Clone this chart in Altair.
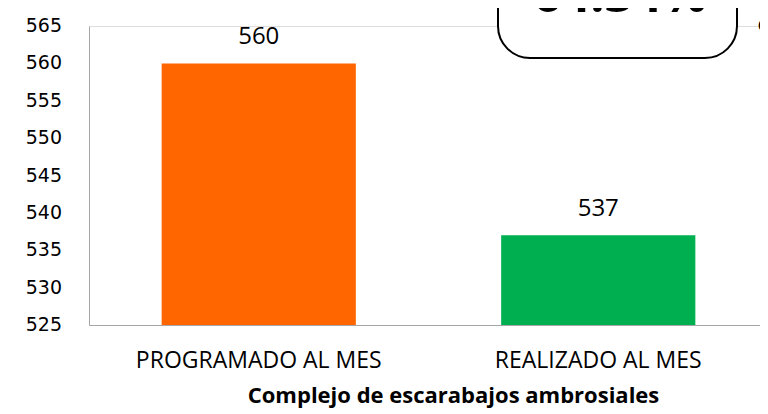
import altair as alt
import pandas as pd

categories = ["PROGRAMADO AL MES", "REALIZADO AL MES"]
values = [560, 537]
bar_colors = ["#FF6600", "#00B050"]
y_ticks = [525, 530, 535, 540, 545, 550, 555, 560, 565]
x_title = "Complejo de escarabajos ambrosiales"
badge_text = ["64.34%"]
side_text = ["a"]

df = pd.DataFrame({"cat": categories, "val": values})
tick_df = pd.DataFrame({"tick": y_ticks})

y_scale = alt.Scale(domain=[525, 565], zero=False, nice=False, clamp=True)

x_enc = alt.X(
    "cat:N",
    sort=categories,
    scale=alt.Scale(paddingInner=0.428, paddingOuter=0.214, range=[0, 679]),
    axis=alt.Axis(
        title=x_title,
        labelAngle=0,
        labelFont="Open Sans",
        labelFontSize=23,
        labelColor="#000000",
        labelPadding=24,
        labelLimit=0,
        ticks=False,
        domainColor="#A6A6A6",
        domainWidth=1,
        titleFont="Open Sans",
        titleFontWeight="bold",
        titleFontSize=22,
        titleColor="#000000",
        titleX=364,
        titleY=77,
        titleAlign="center",
        titleBaseline="alphabetic",
        titleLimit=0,
    ),
)
y_enc = alt.Y(
    "val:Q",
    scale=y_scale,
    axis=alt.Axis(
        title=None,
        values=y_ticks,
        grid=False,
        ticks=False,
        labels=False,
        domainColor="#A6A6A6",
        domainWidth=1,
    ),
)

bars = alt.Chart(df).mark_bar().encode(
    x=x_enc,
    y=y_enc,
    y2=alt.datum(525),
    color=alt.Color("cat:N", scale=alt.Scale(domain=categories, range=bar_colors), legend=None),
)

ytick_labels = alt.Chart(tick_df).mark_text(
    font="DejaVu Sans", fontSize=19, color="#000000", align="right", baseline="middle"
).encode(
    x=alt.value(-27),
    y=alt.Y("tick:Q", scale=y_scale),
    text="tick:Q",
)

labels = alt.Chart(df).mark_text(
    font="Open Sans", fontSize=24, color="#000000", baseline="alphabetic", dy=-19
).encode(
    x=alt.X("cat:N", sort=categories),
    y="val:Q",
    text="val:Q",
)

badge_df = pd.DataFrame({"t": badge_text})
box = alt.Chart(badge_df).mark_rect(
    fill="#FFFFFF", stroke="#000000", strokeWidth=2, cornerRadius=32
).encode(
    x=alt.value(409), x2=alt.value(648), y=alt.value(-60), y2=alt.value(32)
)
badge = alt.Chart(badge_df).mark_text(
    font="Open Sans", fontWeight="bold", fontSize=50, color="#000000",
    baseline="alphabetic", align="center"
).encode(x=alt.value(531), y=alt.value(-14), text="t:N")

side_df = pd.DataFrame({"t": side_text})
side = alt.Chart(side_df).mark_text(
    font="Open Sans", fontWeight="bold", fontSize=40, color="#000000",
    baseline="alphabetic", align="left"
).encode(x=alt.value(668), y=alt.value(6), text="t:N")

chart = alt.layer(bars, ytick_labels, labels, box, badge, side).properties(
    width=671,
    height=299,
    padding={"left": 81, "top": 18, "right": 0, "bottom": 85},
    autosize=alt.AutoSizeParams(type="none"),
).configure_view(stroke=None).configure(background="#FFFFFF")

chart.save("out.html", embed_options={"renderer": "svg", "actions": False})
